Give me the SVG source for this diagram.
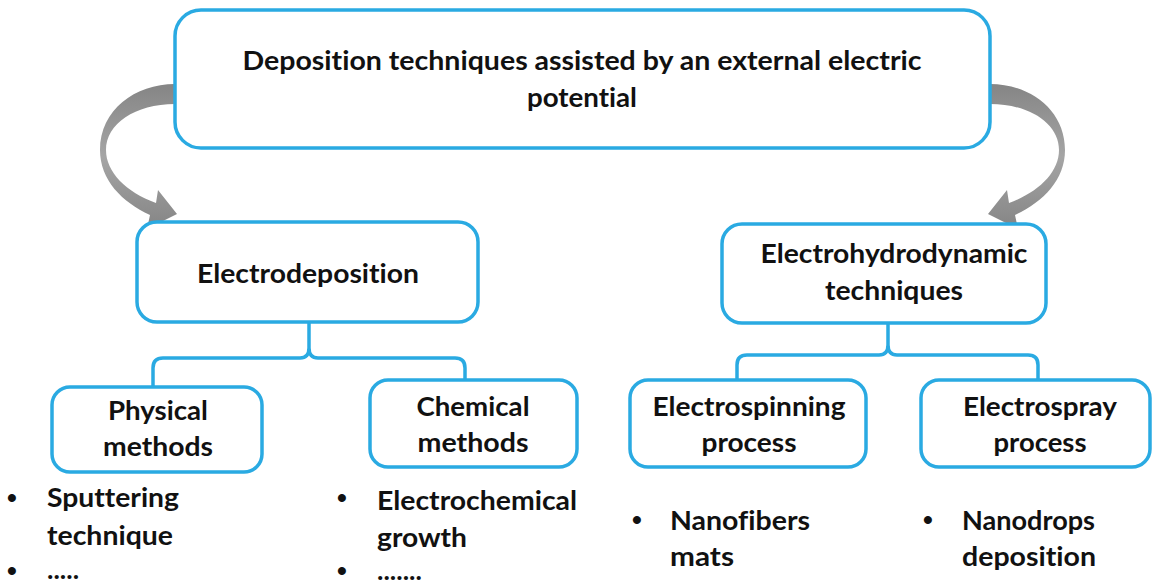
<svg xmlns="http://www.w3.org/2000/svg" width="1154" height="586" viewBox="0 0 1154 586">
<defs>
<style>
.box{fill:#fff;stroke:#2aaae2;stroke-width:3.5}
.con{fill:none;stroke:#2aaae2;stroke-width:3.5;stroke-linejoin:round;stroke-linecap:round}
.t{font-family:Lato,"Open Sans","Liberation Sans",sans-serif;font-weight:bold;font-size:27px;fill:#111;font-variant-ligatures:none}
.b{font-family:"Liberation Sans",sans-serif;font-weight:bold;font-size:28px;fill:#111}
.c{text-anchor:middle}
.arr{fill:url(#g)}
</style>
<linearGradient id="g" x1="0" y1="0" x2="0" y2="1">
<stop offset="0" stop-color="#858585"/>
<stop offset="0.5" stop-color="#a5a5a5"/>
<stop offset="1" stop-color="#858585"/>
</linearGradient>
<path id="ca" d="M175,84 C135,84 100,110 100,150 C100,180 122,202 150,215 L147,229 L177,214 L158,190 L156,203 C126,192 106,172 106,150 C106,124 135,104 175,104 Z"/>
</defs>
<g id="connectors">
<use href="#ca" class="arr"/>
<use href="#ca" class="arr" transform="translate(1165,0) scale(-1,1)"/>
<path class="con" d="M153,387 V368 Q153,358 163,358 H300 Q309,358 309,348 V322 M309,348 Q309,358 318,358 H455 Q465,358 465,368 V380"/>
<path class="con" d="M737,380 V365 Q737,355 747,355 H879 Q888,355 888,345 V323 M888,345 Q888,355 897,355 H1028 Q1038,355 1038,365 V380"/>
</g>
<g id="top">
<rect class="box" x="175" y="10" width="815" height="138" rx="26"/>
<text class="t c" x="582" y="70" textLength="679" lengthAdjust="spacingAndGlyphs">Deposition techniques assisted by an external electric</text>
<text class="t c" x="582" y="107" textLength="110" lengthAdjust="spacingAndGlyphs">potential</text>
</g>
<g id="electrodeposition">
<rect class="box" x="137" y="222" width="341" height="100" rx="20"/>
<text class="t c" x="308" y="283" textLength="222" lengthAdjust="spacingAndGlyphs">Electrodeposition</text>
</g>
<g id="ehd">
<rect class="box" x="722" y="224" width="324" height="99" rx="20"/>
<text class="t c" x="894" y="263" textLength="267" lengthAdjust="spacingAndGlyphs">Electrohydrodynamic</text>
<text class="t c" x="894" y="300" textLength="138" lengthAdjust="spacingAndGlyphs">techniques</text>
</g>
<g id="physical">
<rect class="box" x="52" y="387" width="210" height="85" rx="18"/>
<text class="t c" x="158" y="420" textLength="100" lengthAdjust="spacingAndGlyphs">Physical</text>
<text class="t c" x="158" y="456" textLength="110" lengthAdjust="spacingAndGlyphs">methods</text>
</g>
<g id="chemical">
<rect class="box" x="370" y="380" width="207" height="87" rx="18"/>
<text class="t c" x="473" y="416" textLength="113" lengthAdjust="spacingAndGlyphs">Chemical</text>
<text class="t c" x="473" y="452" textLength="111" lengthAdjust="spacingAndGlyphs">methods</text>
</g>
<g id="electrospinning">
<rect class="box" x="630" y="380" width="236" height="87" rx="18"/>
<text class="t c" x="749" y="416" textLength="193" lengthAdjust="spacingAndGlyphs">Electrospinning</text>
<text class="t c" x="749" y="452" textLength="95" lengthAdjust="spacingAndGlyphs">process</text>
</g>
<g id="electrospray">
<rect class="box" x="921" y="380" width="229" height="87" rx="18"/>
<text class="t c" x="1040" y="416" textLength="154" lengthAdjust="spacingAndGlyphs">Electrospray</text>
<text class="t c" x="1040" y="452" textLength="93" lengthAdjust="spacingAndGlyphs">process</text>
</g>
<g id="list-physical">
<text class="b" x="7" y="507">•</text>
<text class="t" x="47" y="507" textLength="132" lengthAdjust="spacingAndGlyphs">Sputtering</text>
<text class="t" x="47" y="545" textLength="126" lengthAdjust="spacingAndGlyphs">technique</text>
<text class="b" x="7" y="580">•</text>
<text class="t" x="47" y="579">.....</text>
</g>
<g id="list-chemical">
<text class="b" x="337" y="507">•</text>
<text class="t" x="377" y="510" textLength="200" lengthAdjust="spacingAndGlyphs">Electrochemical</text>
<text class="t" x="377" y="547" textLength="90" lengthAdjust="spacingAndGlyphs">growth</text>
<text class="b" x="337" y="580">•</text>
<text class="t" x="377" y="580">.......</text>
</g>
<g id="list-spinning">
<text class="b" x="632" y="529">•</text>
<text class="t" x="670" y="530" textLength="140" lengthAdjust="spacingAndGlyphs">Nanofibers</text>
<text class="t" x="670" y="566" textLength="64" lengthAdjust="spacingAndGlyphs">mats</text>
</g>
<g id="list-spray">
<text class="b" x="923" y="529">•</text>
<text class="t" x="962" y="530" textLength="133" lengthAdjust="spacingAndGlyphs">Nanodrops</text>
<text class="t" x="962" y="566" textLength="134" lengthAdjust="spacingAndGlyphs">deposition</text>
</g>
</svg>
